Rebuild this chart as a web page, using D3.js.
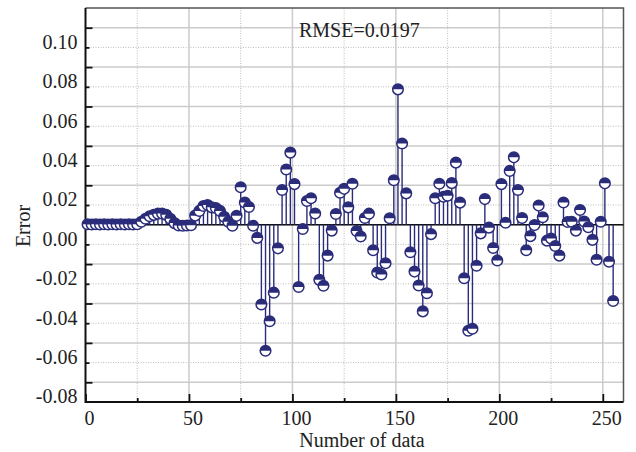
<!DOCTYPE html>
<html lang="en">
<head>
    <meta charset="UTF-8">
    <title>Error</title>
    <script src="https://d3js.org/d3.v7.min.js"></script>
    <style>
        body { margin: 0; background: #fff; }
        text { font-family: "Liberation Serif", "Times New Roman", serif; fill: #222; }
    </style>
</head>
<body>
<div class="canvas"></div>
<script>
  // error of each sample
  const errors = [
    0.0002, 0.0001, 0.0002, 0.0001, 0.0002, 0.0001, 0.0002, 0.0001, 0.0002, 0.0001,
    0.0002, 0.0001, 0.0002, 0.0015, 0.003, 0.0043, 0.005, 0.0056, 0.0057, 0.005,
    0.003, 0.0008, -0.0004, -0.0005, -0.0004, -0.0003, 0.0046, 0.007, 0.0095, 0.010,
    0.0088, 0.0085, 0.007, 0.004, 0.0015, -0.0005, 0.0045, 0.019, 0.0113, 0.009,
    -0.0005, -0.0067, -0.0405, -0.064, -0.049, -0.0345, -0.012, 0.0176, 0.028, 0.0366,
    0.0206, -0.0316, -0.0022, 0.012, 0.0134, 0.0057, -0.028, -0.031, -0.0157, -0.003,
    0.0054, 0.0162, 0.0182, 0.0088, 0.0208, -0.0032, -0.006, 0.0034, 0.0056, -0.013,
    -0.0243, -0.0253, -0.0196, 0.0033, 0.0226, 0.0687, 0.0412, 0.0159, -0.014, -0.0238,
    -0.0309, -0.044, -0.0348, -0.0048, 0.0134, 0.0208, 0.0142, 0.0147, 0.0211, 0.0315,
    0.0112, -0.0272, -0.0538, -0.0528, -0.0208, -0.0044, 0.013, -0.0015, -0.0118, -0.0182,
    0.0206, 0.001, 0.0273, 0.0342, 0.0176, 0.0034, -0.013, -0.0058, -0.0002, 0.0097,
    0.0038, -0.0081, -0.007, -0.0108, -0.0157, 0.0113, 0.0014, 0.0015, -0.003, 0.0075,
    0.0016, -0.0013, -0.0077, -0.0178, 0.0015, 0.021, -0.0188, -0.0387
  ]
  const yMajor = [-0.08, -0.06, -0.04, -0.02, 0.00, 0.02, 0.04, 0.06, 0.08, 0.10]
  const yMinor = [-0.07, -0.05, -0.03, -0.01, 0.01, 0.03, 0.05, 0.07, 0.09]
  const xMajor = [0, 50, 100, 150, 200, 250]
  const xMinor = [25, 75, 125, 175, 225]
  const rmseText = 'RMSE=0.0197'

  const data = errors.map((e, i) => ({ n: 2 * i + 1, e: e }))

  const width = 636
  const height = 452
  let [mt, mb, mr, ml] = [8, 50, 12.5, 85.5]
  const navy = '#2a2c7a'

  const svg = d3.select('.canvas')
    .append('svg')
    .attr('width', width)
    .attr('height', height)

  const graphWidth = width - ml - mr
  const graphHeight = height - mt - mb

  const x = d3.scaleLinear().domain([0, 260]).range([ml, ml + graphWidth])
  const y = d3.scaleLinear().domain([-0.09, 0.11]).range([mt + graphHeight, mt])

  // grid
  const grid = svg.append('g')
  grid.selectAll('.vmin').data(xMinor).enter().append('line')
    .attr('x1', d => x(d)).attr('x2', d => x(d))
    .attr('y1', mt).attr('y2', mt + graphHeight)
    .attr('stroke', '#bdbdbd').attr('stroke-width', 1).attr('stroke-dasharray', '1,1.5')
  grid.selectAll('.hmin').data(yMinor).enter().append('line')
    .attr('x1', ml).attr('x2', ml + graphWidth)
    .attr('y1', d => y(d)).attr('y2', d => y(d))
    .attr('stroke', '#bdbdbd').attr('stroke-width', 1).attr('stroke-dasharray', '1,1.5')
  grid.selectAll('.vmaj').data(xMajor.slice(1)).enter().append('line')
    .attr('x1', d => x(d)).attr('x2', d => x(d))
    .attr('y1', mt).attr('y2', mt + graphHeight)
    .attr('stroke', '#cbcbcb').attr('stroke-width', 1.5)
  grid.selectAll('.hmaj').data(yMajor).enter().append('line')
    .attr('x1', ml).attr('x2', ml + graphWidth)
    .attr('y1', d => y(d)).attr('y2', d => y(d))
    .attr('stroke', '#cbcbcb').attr('stroke-width', 1.5)

  // top and right frame
  svg.append('path')
    .attr('d', `M${ml},${mt}H${ml + graphWidth}V${mt + graphHeight}`)
    .attr('fill', 'none').attr('stroke', '#555').attr('stroke-width', 1.5)

  // tick marks pointing inward
  const tickG = svg.append('g')
  tickG.append('g').attr('transform', `translate(${ml},0)`)
    .call(d3.axisRight(y).tickValues(yMajor).tickSize(7).tickFormat(''))
  tickG.append('g').attr('transform', `translate(${ml},0)`)
    .call(d3.axisRight(y).tickValues(yMinor).tickSize(4).tickFormat(''))
  tickG.append('g').attr('transform', `translate(0,${mt + graphHeight})`)
    .call(d3.axisTop(x).tickValues(xMajor).tickSize(8).tickFormat(''))
  tickG.append('g').attr('transform', `translate(0,${mt + graphHeight})`)
    .call(d3.axisTop(x).tickValues(xMinor).tickSize(4).tickFormat(''))
  tickG.selectAll('.domain').remove()
  tickG.selectAll('line').attr('stroke', '#111').attr('stroke-width', 1.8)

  // labels
  const yAxisG = svg.append('g').attr('transform', `translate(${ml},0)`)
    .call(d3.axisLeft(y).tickValues(yMajor).tickSize(0).tickPadding(8).tickFormat(d => d.toFixed(2)))
  yAxisG.select('.domain').remove()
  yAxisG.selectAll('text')
    .attr('dy', null).attr('y', 20.5)
    .style('font-size', '20px').style('font-family', '"Liberation Serif", serif').attr('fill', '#222')

  const xAxisG = svg.append('g').attr('transform', `translate(0,${mt + graphHeight})`)
    .call(d3.axisBottom(x).tickValues(xMajor).tickSize(0).tickFormat(d => d))
  xAxisG.select('.domain').remove()
  xAxisG.selectAll('text')
    .attr('dy', null).attr('y', 23).attr('dx', 3.5)
    .style('font-size', '20px').style('font-family', '"Liberation Serif", serif').attr('fill', '#222')

  // left and bottom axis lines
  svg.append('path')
    .attr('d', `M${ml},${mt}V${mt + graphHeight}H${ml + graphWidth}`)
    .attr('fill', 'none').attr('stroke', '#111').attr('stroke-width', 2)

  // stems
  svg.append('line')
    .attr('x1', ml).attr('x2', ml + graphWidth)
    .attr('y1', y(0)).attr('y2', y(0))
    .attr('stroke', '#111').attr('stroke-width', 1.5)

  svg.append('g').selectAll('line').data(data).enter().append('line')
    .attr('x1', d => x(d.n)).attr('x2', d => x(d.n))
    .attr('y1', y(0)).attr('y2', d => y(d.e))
    .attr('stroke', navy).attr('stroke-width', 1.4)

  // half filled markers
  const r = 5.3
  const halfArc = d3.arc()({ innerRadius: 0, outerRadius: r, startAngle: -Math.PI / 2, endAngle: Math.PI / 2 })
  const marks = svg.append('g').selectAll('g').data(data).enter().append('g')
    .attr('transform', d => `translate(${x(d.n)},${y(d.e)})`)
  marks.append('circle').attr('r', r).attr('fill', '#fff')
    .attr('stroke', navy).attr('stroke-width', 1.5)
  marks.append('path').attr('d', halfArc).attr('fill', navy)

  // annotation and titles
  svg.append('text')
    .attr('x', 299).attr('y', 37.3)
    .style('font-size', '20px')
    .text(rmseText)

  svg.append('text')
    .attr('x', 362).attr('y', 447)
    .attr('text-anchor', 'middle')
    .style('font-size', '20px')
    .text('Number of data')

  svg.append('text')
    .attr('transform', 'translate(30,226) rotate(-90)')
    .attr('text-anchor', 'middle')
    .style('font-size', '20px')
    .text('Error')
</script>
</body>
</html>
